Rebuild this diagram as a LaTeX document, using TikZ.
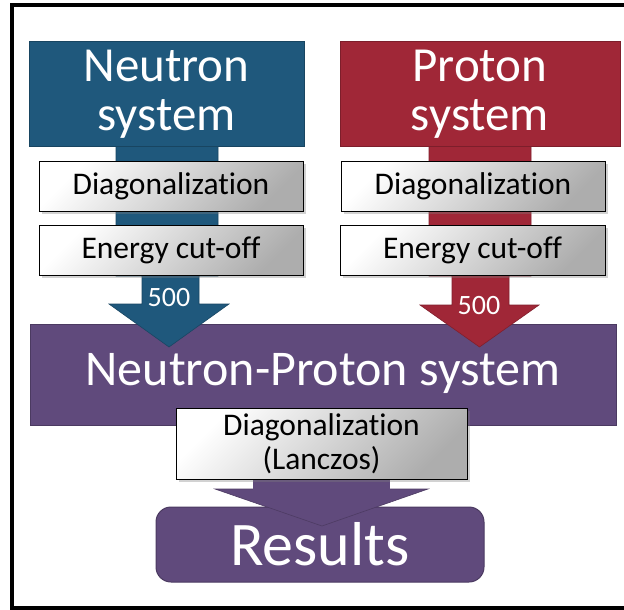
\documentclass[tikz,border=0pt]{standalone}
\usepackage{fontspec}
\setmainfont{Carlito}[Ligatures={NoCommon,NoDiscretionary,NoContextual}]
\usetikzlibrary{shadows}

\definecolor{nblue}{RGB}{31,88,124}
\definecolor{pred}{RGB}{160,39,55}
\definecolor{npurple}{RGB}{96,74,124}

\tikzset{
  sysbox/.style={draw=#1!78!black, fill=#1, line width=1pt, text=white,
    inner sep=0pt, align=center},
  flowshape/.style={fill=#1, draw=#1!80!black, line width=0.6pt, line join=miter},
  stepbox/.style={draw=black, line width=1pt, top color=white,
    bottom color=black!32, shading angle=45,
    drop shadow={shadow xshift=2.5pt, shadow yshift=-2.5pt, opacity=0.35},
    inner sep=0pt, align=center, font=\fontsize{31.5}{34}\selectfont},
  countlabel/.style={text=white, inner sep=0pt, font=\fontsize{28}{30}\selectfont},
}

\begin{document}
\begin{tikzpicture}[x=1pt, y=-1pt]
  \useasboundingbox (0,0) rectangle (624,610);
  \fill[white] (0,0) rectangle (624,610);

  % outer frame (open on the right)
  \draw[line width=4.5pt, line join=miter] (624,5) -- (12,5) -- (12,608) -- (624,608);

  % combined system
  \node[sysbox=npurple, minimum width=586pt, minimum height=101pt,
        font=\fontsize{50}{52}\selectfont] (np) at (323,374.5)
        {\rule[-10pt]{0pt}{40pt}Neutron-Proton system};

  % arrows feeding the combined system
  \draw[flowshape=nblue] (116,140) -- (218,140) -- (218,276) -- (199,276)
    -- (199,304) -- (229,304) -- (169,347) -- (109,304) -- (142,304)
    -- (142,276) -- (116,276) -- cycle;
  \draw[flowshape=pred] (429,140) -- (531,140) -- (531,276) -- (509,276)
    -- (509,305) -- (539,305) -- (479.5,347) -- (420,305) -- (452,305)
    -- (452,276) -- (429,276) -- cycle;

  % single-species systems
  \node[sysbox=nblue, minimum width=275pt, minimum height=104pt,
        font=\fontsize{49}{49}\selectfont] (neu) at (166.5,94)
        {Neutron\\system};
  \node[sysbox=pred, minimum width=280pt, minimum height=104pt,
        font=\fontsize{49}{49}\selectfont] (pro) at (480,94)
        {Proton\\system};

  % processing steps
  \node[stepbox, minimum width=264pt, minimum height=50pt] (ndiag) at (171,186) {Diagonalization};
  \node[stepbox, minimum width=264pt, minimum height=50pt] (ncut) at (171,250) {Energy cut-off};
  \node[stepbox, minimum width=264pt, minimum height=50pt] (pdiag) at (473,186) {Diagonalization};
  \node[stepbox, minimum width=265pt, minimum height=50pt] (pcut) at (472.5,250) {Energy cut-off};

  \node[countlabel] (nnum) at (169,298) {500};
  \node[countlabel] (pnum) at (479,306) {500};

  % results
  \node[sysbox=npurple, rounded corners=15pt, minimum width=328pt, minimum height=75pt,
        font=\fontsize{62}{64}\selectfont] (res) at (320,544.5) {Results};

  % arrow from the combined system to the results
  \draw[flowshape=npurple] (253,489) -- (215,489) -- (322,526) -- (428,489) -- (390,489);
  \fill[npurple] (253,420) rectangle (390,490);

  \node[stepbox, minimum width=291pt, minimum height=71pt] (lan) at (321.5,443.5)
        {Diagonalization\\(Lanczos)};
\end{tikzpicture}
\end{document}
